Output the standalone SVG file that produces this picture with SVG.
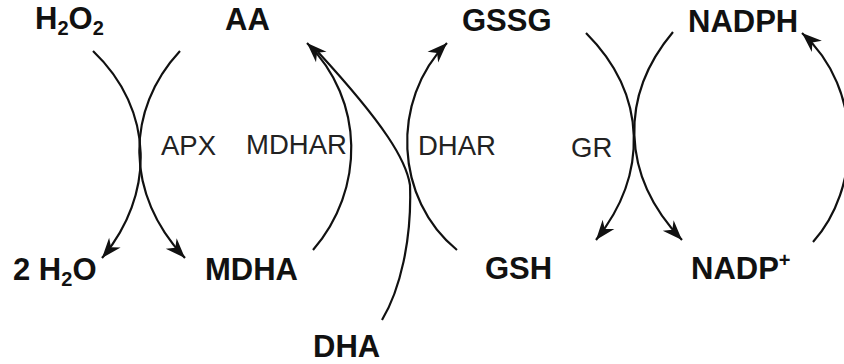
<svg xmlns="http://www.w3.org/2000/svg" width="844" height="364" viewBox="0 0 844 364">
  <style>
    .m { font-family: "Liberation Sans", Arial, sans-serif; font-weight: bold; font-size: 31px; fill: #111; }
    .e { font-family: "Liberation Sans", Arial, sans-serif; font-size: 27.5px; fill: #222; }
    .sub { font-size: 20px; }
    .c { fill: none; stroke: #111; stroke-width: 2.2; }
  </style>
  <defs>
    <marker id="head" markerUnits="userSpaceOnUse" markerWidth="24" markerHeight="18" viewBox="-21 -9 23 18" refX="0" refY="0" orient="auto">
      <path d="M0,0 L-20,-7.5 L-14,0 L-20,7.5 Z" fill="#111"/>
    </marker>
  </defs>
  <rect width="844" height="364" fill="#fff"/>

  <!-- metabolites -->
  <g id="h2o2"><text class="m" x="35" y="29">H<tspan class="sub" dy="6">2</tspan><tspan dy="-6">O</tspan><tspan class="sub" dy="6">2</tspan></text></g>
  <g id="aa"><text class="m" x="225" y="30">AA</text></g>
  <g id="gssg"><text class="m" x="462" y="31">GSSG</text></g>
  <g id="nadph"><text class="m" x="688" y="32">NADPH</text></g>
  <g id="h2o"><text class="m" x="13" y="280">2 H<tspan class="sub" dy="6">2</tspan><tspan dy="-6">O</tspan></text></g>
  <g id="mdha"><text class="m" x="205" y="280">MDHA</text></g>
  <g id="gsh"><text class="m" x="485" y="279">GSH</text></g>
  <g id="nadp"><text class="m" x="691" y="279">NADP<tspan class="sub" dy="-12">+</tspan></text></g>
  <g id="dha"><text class="m" x="313" y="357">DHA</text></g>

  <!-- enzymes -->
  <g id="apx"><text class="e" x="161" y="155">APX</text></g>
  <g id="mdhar"><text class="e" x="246" y="154">MDHAR</text></g>
  <g id="dhar"><text class="e" x="418" y="155">DHAR</text></g>
  <g id="gr"><text class="e" x="571" y="157">GR</text></g>

  <!-- reaction arcs -->
  <g id="connectors">
    <path class="c" d="M93,51 C155,110 155,195 102,258" marker-end="url(#head)"/>
    <path class="c" d="M180,51 C125,110 125,195 185,258" marker-end="url(#head)"/>
    <path class="c" d="M313,250 C365,190 365,100 307,43" marker-end="url(#head)"/>
    <path class="c" d="M382,320 C400,290 412,240 410,185 C406,160 385,125 318,52"/>
    <path class="c" d="M457,250 C395,200 390,100 447,43" marker-end="url(#head)"/>
    <path class="c" d="M586,33 C648,95 648,175 596,240" marker-end="url(#head)"/>
    <path class="c" d="M673,32 C620,95 620,175 682,240" marker-end="url(#head)"/>
    <path class="c" d="M813,242 C860,190 865,90 802,33" marker-end="url(#head)"/>
  </g>
</svg>
